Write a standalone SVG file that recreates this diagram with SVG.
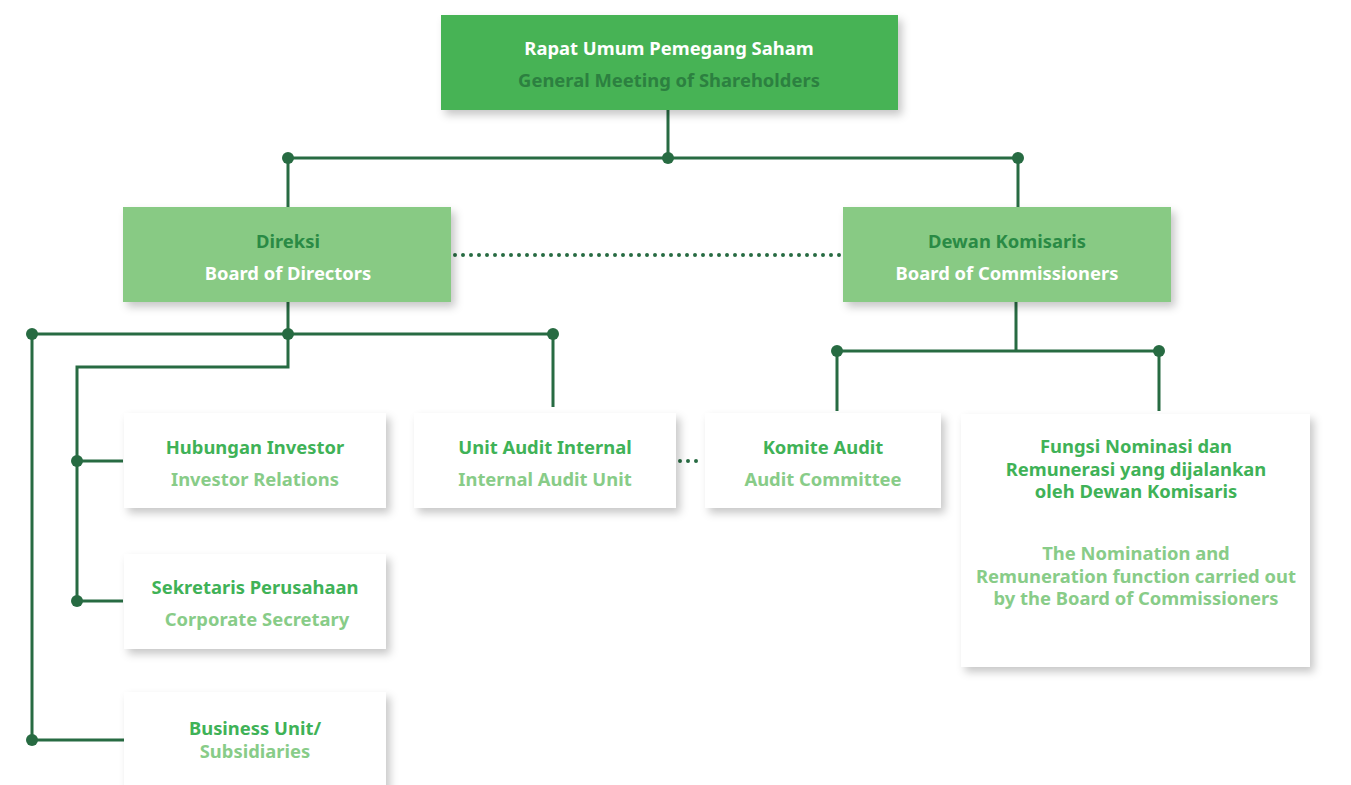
<svg xmlns="http://www.w3.org/2000/svg" width="1351" height="785" viewBox="0 0 1351 785">
<defs>
<filter id="sh" x="-10%" y="-20%" width="125%" height="150%">
<feDropShadow dx="4" dy="5" stdDeviation="4" flood-color="#000" flood-opacity="0.22"/>
</filter>
</defs>
<style>
text{font-family:"Noto Sans","Open Sans","DejaVu Sans",sans-serif;font-weight:700;font-size:18.4px;text-anchor:middle}
.ln{stroke:#276b42;stroke-width:3;fill:none}
.dot{fill:#276b42}
.dl{stroke:#276b42;stroke-width:4;stroke-linecap:round;stroke-dasharray:0 8;fill:none}
.wb{fill:#fff;filter:url(#sh)}
.t1{fill:#3fb257}
.t2{fill:#88cc88}
</style>
<rect width="1351" height="785" fill="#fff"/>
<g id="connectors">
<path class="ln" d="M668 110V158M288 158H1018M288 158V207M1018 158V207"/>
<path class="ln" d="M288 302V367H77V601M32 334H553M553 334V407M32 334V740H125M77 461H123M77 601H123"/>
<path class="ln" d="M1016 302V351M837 351H1159M837 351V411M1159 351V411"/>
<path class="dl" d="M455 255H840"/>
<path class="dl" d="M680 461H704"/>
<circle class="dot" cx="288" cy="158" r="6"/>
<circle class="dot" cx="668" cy="158" r="6"/>
<circle class="dot" cx="1018" cy="158" r="6"/>
<circle class="dot" cx="32" cy="334" r="6"/>
<circle class="dot" cx="288" cy="334" r="6"/>
<circle class="dot" cx="553" cy="334" r="6"/>
<circle class="dot" cx="77" cy="461" r="6"/>
<circle class="dot" cx="77" cy="601" r="6"/>
<circle class="dot" cx="32" cy="740" r="6"/>
<circle class="dot" cx="837" cy="351" r="6"/>
<circle class="dot" cx="1159" cy="351" r="6"/>
</g>
<g id="rups">
<rect x="441" y="15" width="457" height="95" fill="#46b355" filter="url(#sh)"/>
<text x="669" y="55" fill="#fff">Rapat Umum Pemegang Saham</text>
<text x="669" y="87" fill="#2c8040">General Meeting of Shareholders</text>
</g>
<g id="direksi">
<rect x="123" y="207" width="328" height="95" fill="#88ca84" filter="url(#sh)"/>
<text x="288" y="248" fill="#2a8a45">Direksi</text>
<text x="288" y="280" fill="#fff">Board of Directors</text>
</g>
<g id="dekom">
<rect x="843" y="207" width="328" height="95" fill="#88ca84" filter="url(#sh)"/>
<text x="1007" y="248" fill="#2a8a45">Dewan Komisaris</text>
<text x="1007" y="280" fill="#fff">Board of Commissioners</text>
</g>
<g id="ir">
<rect class="wb" x="124" y="413" width="262" height="95"/>
<text class="t1" x="255" y="454">Hubungan Investor</text>
<text class="t2" x="255" y="486">Investor Relations</text>
</g>
<g id="corsec">
<rect class="wb" x="124" y="554" width="262" height="95"/>
<text class="t1" x="255" y="594">Sekretaris Perusahaan</text>
<text class="t2" x="257" y="626">Corporate Secretary</text>
</g>
<g id="bu">
<rect class="wb" x="124" y="692" width="262" height="110"/>
<text class="t1" x="255" y="735">Business Unit/</text>
<text class="t2" x="255" y="758">Subsidiaries</text>
</g>
<g id="sai">
<rect class="wb" x="414" y="413" width="262" height="95"/>
<text class="t1" x="545" y="454">Unit Audit Internal</text>
<text class="t2" x="545" y="486">Internal Audit Unit</text>
</g>
<g id="komite">
<rect class="wb" x="705" y="413" width="236" height="95"/>
<text class="t1" x="823" y="454">Komite Audit</text>
<text class="t2" x="823" y="486">Audit Committee</text>
</g>
<g id="nomrem">
<rect class="wb" x="961" y="414" width="349" height="253"/>
<text class="t1" x="1136" y="453">Fungsi Nominasi dan</text>
<text class="t1" x="1136" y="476">Remunerasi yang dijalankan</text>
<text class="t1" x="1136" y="498">oleh Dewan Komisaris</text>
<text class="t2" x="1136" y="560">The Nomination and</text>
<text class="t2" x="1136" y="583">Remuneration function carried out</text>
<text class="t2" x="1136" y="605">by the Board of Commissioners</text>
</g>
</svg>
